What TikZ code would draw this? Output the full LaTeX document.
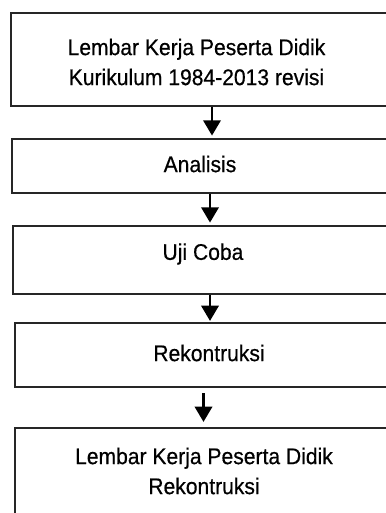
\documentclass[tikz,border=0pt]{standalone}
\usepackage{fontspec}
\setmainfont[FakeStretch=0.93,FakeBold=0.5]{Liberation Sans}
\usetikzlibrary{arrows.meta,fit}
\begin{document}
\begin{tikzpicture}[x=0.75pt,y=-0.75pt,
  box/.style={draw=black!85,line width=1.1pt,inner sep=0pt,rectangle},
  txt/.style={font=\fontsize{17}{22.5}\selectfont,align=center,inner sep=0pt},
  arr/.style={line width=2pt,-{Triangle[length=11.5pt,width=13pt]}}]
\useasboundingbox (0,0) rectangle (385,513);
\node[box,fit={(11,13) (400,106)}] (b1) {};
\node[box,fit={(12,139) (400,193)}] (b2) {};
\node[box,fit={(13,226) (400,294)}] (b3) {};
\node[box,fit={(15,323) (400,387)}] (b4) {};
\node[box,fit={(15,428) (400,540)}] (b5) {};
\node[txt] (t1) at (196.5,62) {Lembar Kerja Peserta Didik\\Kurikulum 1984-2013 revisi};
\node[txt] (t2) at (200,164) {Analisis};
\node[txt] (t3) at (203,254) {Uji Coba};
\node[txt] (t4) at (209,353) {Rekontruksi};
\node[txt] (t5) at (204,471) {Lembar Kerja Peserta Didik\\Rekontruksi};
\draw[arr,shorten >=2pt] (b1.south -| 212,0) -- (b2.north -| 212,0);
\draw[arr,shorten >=2pt] (b2.south -| 210,0) -- (b3.north -| 210,0);
\draw[arr,shorten >=1pt] (b3.south -| 210,0) -- (b4.north -| 210,0);
\draw[arr,shorten <=4pt,shorten >=4pt] (b4.south -| 203.5,0) -- (b5.north -| 203.5,0);
\end{tikzpicture}
\end{document}
